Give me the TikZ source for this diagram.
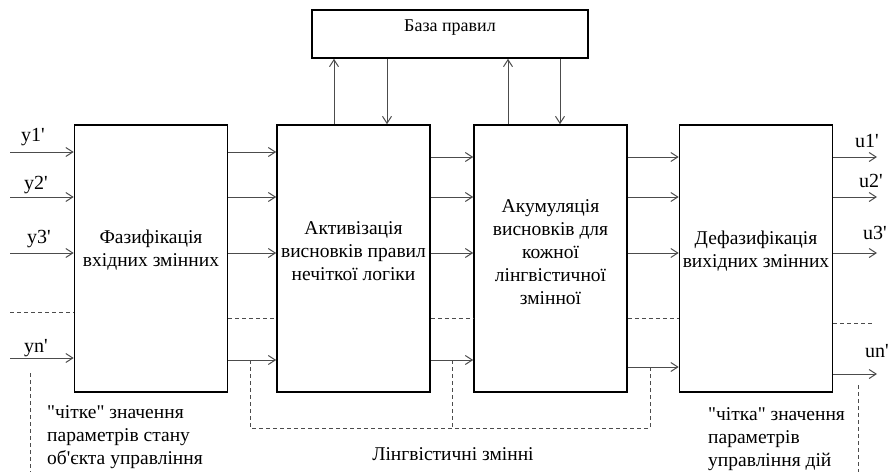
\documentclass[tikz,border=0pt]{standalone}
\usepackage{fontspec}
\setmainfont{Liberation Serif}
\usetikzlibrary{arrows.meta}
\newcommand\sq{\textquotesingle}
\newcommand\dq{\textquotedbl}
\begin{document}
\begin{tikzpicture}[x=1pt,y=-1pt,
    blk/.style={draw,line width=1.6pt,minimum width=153pt,minimum height=267pt,inner sep=0pt},
    sig/.style={draw=black!70,line width=1pt,-{Straight Barb[length=7pt,width=9pt]}},
    dsh/.style={draw=black!70,line width=0.8pt,dash pattern=on 4pt off 3pt},
    txt/.style={align=center,font=\fontsize{19.5}{23}\selectfont},
    lbl/.style={font=\fontsize{20}{22}\selectfont,inner sep=0pt,anchor=base west}]
  \useasboundingbox (0,0) rectangle (888,472);
  \node[blk](fuz) at (151,258.5){};
  \node[blk](act) at (353.5,258.5){};
  \node[blk](acc) at (550.5,258.5){};
  \node[blk](def) at (756,258.5){};
  \node[draw,line width=1.6pt,minimum width=276pt,inner sep=0pt,text height=21pt,text depth=27pt,
    anchor=base,font=\fontsize{18}{20}\selectfont](rb) at (450,31){База правил};
  \node[txt] at ([yshift=8pt]fuz.center){Фазифікація\\вхідних змінних};
  \node[txt] at ([yshift=7pt]act.center){Активізація\\висновків правил\\нечіткої логіки};
  \node[txt] at ([yshift=6pt]acc.center){Акумуляція\\висновків для\\кожної\\лінгвістичної\\змінної};
  \node[txt] at ([yshift=7pt]def.center){Дефазифікація\\вихідних змінних};
  % rule base links
  \draw[sig] (act.north-|334,0) -- (rb.south-|334,0);
  \draw[sig] (rb.south-|387,0) -- (act.north-|387,0);
  \draw[sig] (acc.north-|508,0) -- (rb.south-|508,0);
  \draw[sig] (rb.south-|560,0) -- (acc.north-|560,0);
  % inputs
  \coordinate (inl) at (10,0);
  \coordinate (outr) at (877,0);
  \foreach \y in {152,197,253,358}
    \draw[sig] (inl|-0,\y) -- (fuz.west|-0,\y);
  \foreach \y in {152,197,253,360}
    \draw[sig] (fuz.east|-0,\y) -- (act.west|-0,\y);
  \foreach \y in {157,197,253,360}
    \draw[sig] (act.east|-0,\y) -- (acc.west|-0,\y);
  \foreach \y in {157,197,253,367}
    \draw[sig] (acc.east|-0,\y) -- (def.west|-0,\y);
  \foreach \y in {157,197,253,374}
    \draw[sig] (def.east|-0,\y) -- (outr|-0,\y);
  \draw[dsh] (inl|-0,312) -- (fuz.west|-0,312);
  \draw[dsh] (fuz.east|-0,318) -- (act.west|-0,318);
  \draw[dsh] (act.east|-0,318) -- (acc.west|-0,318);
  \draw[dsh] (acc.east|-0,318) -- (def.west|-0,318);
  \draw[dsh] (def.east|-0,323) -- (875,323);
  % linguistic variables
  \draw[dsh] (250,360) -- (250,428) -- (650,428) -- (650,367);
  \draw[dsh] (452,360) -- (452,428);
  \draw[dsh] (30,373) -- (30,472);
  \draw[dsh] (858,385) -- (858,472);
  \node[lbl] at (21,141){y1\sq};
  \node[lbl] at (24,189){y2\sq};
  \node[lbl] at (27,243){y3\sq};
  \node[lbl] at (24,352){yn\sq};
  \node[lbl] at (855,147){u1\sq};
  \node[lbl] at (859,187){u2\sq};
  \node[lbl] at (863,239){u3\sq};
  \node[lbl] at (865,357){un\sq};
  \node[txt,align=left,anchor=north west,inner sep=0pt] at (47,405){\dq чітке\dq{} значення\\параметрів стану\\об\sq єкта управління};
  \node[txt,align=left,anchor=north west,inner sep=0pt] at (708,407){\dq чітка\dq{} значення\\параметрів\\управління дій};
  \node[lbl,anchor=base,font=\fontsize{19.5}{22}\selectfont] at (453,460){Лінгвістичні змінні};
\end{tikzpicture}
\end{document}
